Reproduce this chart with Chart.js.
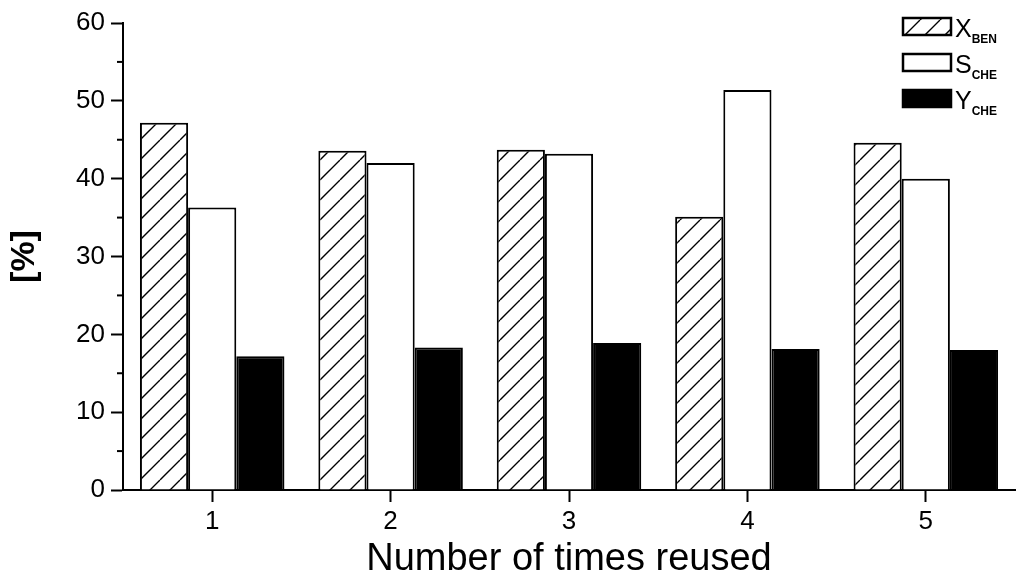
<!DOCTYPE html>
<html>
<head>
<meta charset="utf-8">
<script src="https://cdn.jsdelivr.net/npm/chart.js@4"></script>
<style>body{margin:0;background:#fff}</style>
</head>
<body>
<canvas id="myChart" width="1024" height="586"></canvas>
<script>
const labels = ["1", "2", "3", "4", "5"];
const xBen = [47.2, 43.6, 43.7, 35.1, 44.6];
const sChe = [36.3, 42.0, 43.2, 51.4, 40.0];
const yChe = [17.2, 18.3, 18.9, 18.1, 18.0];
const seriesNames = [["X", "BEN"], ["S", "CHE"], ["Y", "CHE"]];

function hatch() {
    const c = document.createElement("canvas");
    c.width = 20; c.height = 20;
    const g = c.getContext("2d");
    g.fillStyle = "#fff";
    g.fillRect(0, 0, 20, 20);
    g.strokeStyle = "#000";
    g.lineWidth = 1.4;
    g.beginPath();
    for (let k = -1; k <= 1; k++) {
        g.moveTo(k * 20, 20);
        g.lineTo(k * 20 + 20, 0);
    }
    g.stroke();
    return g.createPattern(c, "repeat");
}
const ctx = document.getElementById("myChart").getContext("2d");
const hatchFill = hatch();
const fills = [hatchFill, "#fff", "#000"];

const extras = {
    id: "extras",
    afterDraw(chart) {
        const c = chart.ctx, y = chart.scales.y, area = chart.chartArea;
        c.save();
        c.strokeStyle = "#000";
        c.lineWidth = 2;
        // minor ticks on y
        for (let v = 5; v < 60; v += 10) {
            const py = y.getPixelForValue(v);
            c.beginPath(); c.moveTo(area.left - 6, py); c.lineTo(area.left, py); c.stroke();
        }
        // legend
        c.lineWidth = 2.5;
        const boxes = [18, 54, 90];
        boxes.forEach((by, i) => {
            c.fillStyle = fills[i];
            c.fillRect(903, by, 48, 17);
            c.strokeRect(903, by, 48, 17);
            c.fillStyle = "#000";
            c.font = "25px 'Liberation Sans', Arial";
            c.textBaseline = "alphabetic";
            c.fillText(seriesNames[i][0], 955, by + 19);
            const w = c.measureText(seriesNames[i][0]).width;
            c.font = "bold 12px 'Liberation Sans', Arial";
            c.fillText(seriesNames[i][1], 955 + w, by + 25);
        });
        c.restore();
    }
};

new Chart(ctx, {
    type: "bar",
    data: {
        labels: labels,
        datasets: [xBen, sChe, yChe].map((d, i) => ({
            label: seriesNames[i].join(""),
            data: d,
            backgroundColor: fills[i],
            borderColor: "#000",
            borderWidth: 2,
            borderSkipped: "bottom",
            categoryPercentage: 0.81,
            barPercentage: 1
        }))
    },
    options: {
        responsive: false,
        animation: false,
        layout: { padding: { top: 23, right: 9, left: 0, bottom: 0 } },
        plugins: { legend: { display: false }, tooltip: { enabled: false } },
        scales: {
            x: {
                offset: true,
                grid: { offset: false, drawOnChartArea: false, tickLength: 12, tickColor: "#000", tickWidth: 2 },
                border: { color: "#000", width: 2 },
                ticks: { color: "#000", font: { size: 26, family: "'Liberation Sans', Arial" }, padding: 4 },
                title: { display: true, text: "Number of times reused", color: "#000",
                    font: { size: 38, family: "'Liberation Sans', Arial" }, padding: { top: 0 } },
                afterFit(s) { s.height = 96; }
            },
            y: {
                min: 0, max: 60,
                ticks: { stepSize: 10, color: "#000", font: { size: 26, family: "'Liberation Sans', Arial" }, padding: 6 },
                grid: { drawOnChartArea: false, tickLength: 12, tickColor: "#000", tickWidth: 2 },
                border: { color: "#000", width: 2 },
                title: { display: true, text: "[%]", color: "#000",
                    font: { size: 34, weight: "bold", family: "'Liberation Sans', Arial" }, padding: { bottom: 6 } },
                afterFit(s) { s.width = 123; }
            }
        }
    },
    plugins: [extras]
});
</script>
</body>
</html>
